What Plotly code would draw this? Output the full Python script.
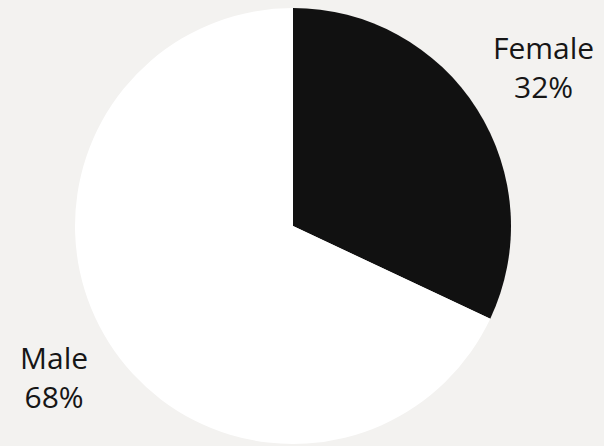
import plotly.graph_objects as go

labels = ["Female", "Male"]
values = [32, 68]
colors = ["#111111", "#ffffff"]

W, H = 604, 446
fig = go.Figure(go.Pie(
    labels=labels, values=values, sort=False, direction="clockwise", rotation=0,
    marker=dict(colors=colors, line=dict(width=0)),
    textinfo="none", hoverinfo="label+percent",
    domain=dict(x=[75 / W, 511 / W], y=[1 - 445 / H, 1 - 7 / H]),
    showlegend=False,
))

label_pos = [(543, 67), (54, 377)]
for lab, val, (px, py) in zip(labels, values, label_pos):
    fig.add_annotation(
        x=px / W, y=1 - py / H, xref="paper", yref="paper",
        text=f"{lab}<br>{round(100 * val / sum(values))}%",
        showarrow=False, xanchor="center", yanchor="middle",
        font=dict(family="Open Sans", size=30, color="#161616"),
    )

fig.update_layout(
    width=W, height=H, margin=dict(l=0, r=0, t=0, b=0),
    paper_bgcolor="#f3f2f0", plot_bgcolor="#f3f2f0",
)
fig.write_html("out.html", config={"displayModeBar": False},
               post_script="document.body.style.margin='0';")
